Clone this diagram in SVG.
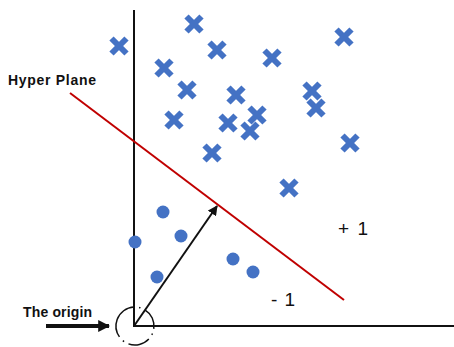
<svg xmlns="http://www.w3.org/2000/svg" width="454" height="347" viewBox="0 0 454 347">
<defs>
<style>
.ax{stroke:#111;stroke-width:2;fill:none}
.x{stroke:#4472C4;stroke-width:6;stroke-linecap:butt}
.d{fill:#4472C4}
.lbl{font-family:"Liberation Sans",Arial,sans-serif;font-weight:bold;font-size:14px;fill:#111}
.num{font-family:"Liberation Sans",Arial,sans-serif;font-size:19px;fill:#111}
</style>
<marker id="ah" viewBox="0 0 10 10" refX="9" refY="5" markerWidth="5" markerHeight="5" orient="auto-start-reverse" markerUnits="strokeWidth">
<path d="M0,0 L10,5 L0,10 z" fill="#111"/>
</marker>
<marker id="ah2" viewBox="0 0 10 10" refX="9" refY="5" markerWidth="3" markerHeight="3" orient="auto" markerUnits="strokeWidth">
<path d="M0,0 L10,5 L0,10 z" fill="#111"/>
</marker>
<g id="xm"><line class="x" x1="-7.5" y1="-7.5" x2="7.5" y2="7.5"/><line class="x" x1="-7.5" y1="7.5" x2="7.5" y2="-7.5"/></g>
</defs>
<rect width="454" height="347" fill="#fff"/>
<g id="axes">
<line class="ax" x1="134" y1="10" x2="134" y2="327"/>
<line class="ax" x1="133" y1="326" x2="454" y2="326"/>
</g>
<g id="connectors">
<line id="hyperplane" x1="70" y1="93" x2="344" y2="300" stroke="#C00000" stroke-width="2"/>
<line id="vector" x1="134" y1="326" x2="217" y2="206" stroke="#111" stroke-width="2" marker-end="url(#ah)"/>
<line id="origin-arrow" x1="46" y1="326" x2="109" y2="326" stroke="#111" stroke-width="4" marker-end="url(#ah2)"/>
<circle id="origin-circle" cx="135" cy="326" r="19" fill="none" stroke="#111" stroke-width="1.5" stroke-dasharray="22 5 1.5 5" transform="rotate(200 135 326)"/>
</g>
<g id="plus-class">
<use href="#xm" x="119" y="46"/>
<use href="#xm" x="194" y="24"/>
<use href="#xm" x="217" y="50"/>
<use href="#xm" x="164" y="68"/>
<use href="#xm" x="187" y="90"/>
<use href="#xm" x="174" y="120"/>
<use href="#xm" x="212" y="153"/>
<use href="#xm" x="344" y="37"/>
<use href="#xm" x="272" y="58"/>
<use href="#xm" x="312" y="91"/>
<use href="#xm" x="316" y="108"/>
<use href="#xm" x="236" y="95"/>
<use href="#xm" x="257" y="115"/>
<use href="#xm" x="228" y="123"/>
<use href="#xm" x="250" y="131"/>
<use href="#xm" x="350" y="143"/>
<use href="#xm" x="289" y="188"/>
</g>
<g id="minus-class">
<circle class="d" cx="163" cy="212" r="6.5"/>
<circle class="d" cx="181" cy="236" r="6.5"/>
<circle class="d" cx="135" cy="242" r="6.5"/>
<circle class="d" cx="157" cy="277" r="6.5"/>
<circle class="d" cx="233" cy="259" r="6.5"/>
<circle class="d" cx="253" cy="272" r="6.5"/>
</g>
<g id="labels">
<text class="lbl" x="8" y="85" textLength="88" font-size="15">Hyper Plane</text>
<text class="lbl" x="23" y="317" textLength="69">The origin</text>
<text class="num" x="338" y="235" textLength="30">+ 1</text>
<text class="num" x="271" y="306" textLength="24">- 1</text>
</g>
</svg>
